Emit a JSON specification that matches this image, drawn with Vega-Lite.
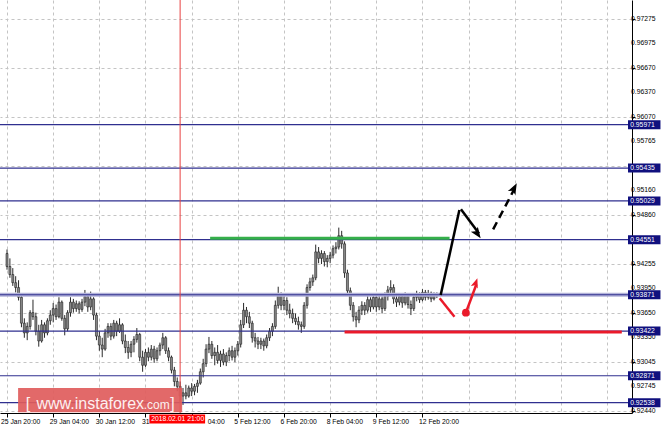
{
"$schema":"https://vega.github.io/schema/vega-lite/v6.json",
"width":632,"height":413,
"autosize":{"type":"none"},
"padding":{"left":0,"top":0,"right":31,"bottom":15},
"background":"white",
"view":{"stroke":null},
"config":{"font":"Liberation Sans","text":{"font":"Liberation Sans"}},
"datasets":{
"bars":[
{"i":0,"o":0.9438,"h":0.9443,"l":0.9418,"c":0.9422},
{"i":1,"o":0.9422,"h":0.9432,"l":0.9408,"c":0.9412},
{"i":2,"o":0.9412,"h":0.9420,"l":0.9398,"c":0.9402},
{"i":3,"o":0.9402,"h":0.9410,"l":0.9390,"c":0.9396},
{"i":4,"o":0.9396,"h":0.9405,"l":0.9380,"c":0.9384},
{"i":5,"o":0.9384,"h":0.9387,"l":0.9347,"c":0.9352},
{"i":6,"o":0.9352,"h":0.9358,"l":0.9334,"c":0.9340},
{"i":7,"o":0.9340,"h":0.9353,"l":0.9331,"c":0.9348},
{"i":8,"o":0.9348,"h":0.9368,"l":0.9344,"c":0.9365},
{"i":9,"o":0.9365,"h":0.9381,"l":0.9356,"c":0.9360},
{"i":10,"o":0.9360,"h":0.9365,"l":0.9337,"c":0.9342},
{"i":11,"o":0.9342,"h":0.9350,"l":0.9323,"c":0.9330},
{"i":12,"o":0.9330,"h":0.9356,"l":0.9328,"c":0.9350},
{"i":13,"o":0.9350,"h":0.9353,"l":0.9334,"c":0.9340},
{"i":14,"o":0.9340,"h":0.9358,"l":0.9337,"c":0.9355},
{"i":15,"o":0.9355,"h":0.9368,"l":0.9350,"c":0.9362},
{"i":16,"o":0.9362,"h":0.9377,"l":0.9353,"c":0.9370},
{"i":17,"o":0.9370,"h":0.9375,"l":0.9356,"c":0.9360},
{"i":18,"o":0.9360,"h":0.9384,"l":0.9358,"c":0.9378},
{"i":19,"o":0.9378,"h":0.9380,"l":0.9355,"c":0.9358},
{"i":20,"o":0.9358,"h":0.9362,"l":0.9337,"c":0.9345},
{"i":21,"o":0.9345,"h":0.9368,"l":0.9342,"c":0.9365},
{"i":22,"o":0.9365,"h":0.9384,"l":0.9360,"c":0.9378},
{"i":23,"o":0.9378,"h":0.9382,"l":0.9365,"c":0.9370},
{"i":24,"o":0.9370,"h":0.9380,"l":0.9366,"c":0.9376},
{"i":25,"o":0.9376,"h":0.9379,"l":0.9364,"c":0.9369},
{"i":26,"o":0.9369,"h":0.9382,"l":0.9366,"c":0.9378},
{"i":27,"o":0.9378,"h":0.9393,"l":0.9373,"c":0.9385},
{"i":28,"o":0.9385,"h":0.9388,"l":0.9366,"c":0.9372},
{"i":29,"o":0.9372,"h":0.9391,"l":0.9368,"c":0.9382},
{"i":30,"o":0.9382,"h":0.9384,"l":0.9356,"c":0.9362},
{"i":31,"o":0.9362,"h":0.9365,"l":0.9331,"c":0.9336},
{"i":32,"o":0.9336,"h":0.9342,"l":0.9318,"c":0.9325},
{"i":33,"o":0.9325,"h":0.9334,"l":0.9310,"c":0.9320},
{"i":34,"o":0.9320,"h":0.9345,"l":0.9318,"c":0.9340},
{"i":35,"o":0.9340,"h":0.9352,"l":0.9334,"c":0.9348},
{"i":36,"o":0.9348,"h":0.9352,"l":0.9331,"c":0.9336},
{"i":37,"o":0.9336,"h":0.9356,"l":0.9333,"c":0.9352},
{"i":38,"o":0.9352,"h":0.9355,"l":0.9336,"c":0.9342},
{"i":39,"o":0.9342,"h":0.9358,"l":0.9340,"c":0.9350},
{"i":40,"o":0.9350,"h":0.9352,"l":0.9326,"c":0.9330},
{"i":41,"o":0.9330,"h":0.9338,"l":0.9315,"c":0.9322},
{"i":42,"o":0.9322,"h":0.9330,"l":0.9308,"c":0.9316},
{"i":43,"o":0.9316,"h":0.9330,"l":0.9310,"c":0.9326},
{"i":44,"o":0.9326,"h":0.9336,"l":0.9316,"c":0.9332},
{"i":45,"o":0.9332,"h":0.9346,"l":0.9328,"c":0.9338},
{"i":46,"o":0.9338,"h":0.9340,"l":0.9305,"c":0.9310},
{"i":47,"o":0.9310,"h":0.9318,"l":0.9292,"c":0.9300},
{"i":48,"o":0.9300,"h":0.9320,"l":0.9298,"c":0.9316},
{"i":49,"o":0.9316,"h":0.9322,"l":0.9305,"c":0.9310},
{"i":50,"o":0.9310,"h":0.9325,"l":0.9306,"c":0.9320},
{"i":51,"o":0.9320,"h":0.9324,"l":0.9303,"c":0.9308},
{"i":52,"o":0.9308,"h":0.9322,"l":0.9305,"c":0.9318},
{"i":53,"o":0.9318,"h":0.9328,"l":0.9312,"c":0.9325},
{"i":54,"o":0.9325,"h":0.9340,"l":0.9320,"c":0.9334},
{"i":55,"o":0.9334,"h":0.9336,"l":0.9314,"c":0.9318},
{"i":56,"o":0.9318,"h":0.9322,"l":0.9305,"c":0.9310},
{"i":57,"o":0.9310,"h":0.9312,"l":0.9290,"c":0.9294},
{"i":58,"o":0.9294,"h":0.9298,"l":0.9274,"c":0.9280},
{"i":59,"o":0.9280,"h":0.9285,"l":0.9268,"c":0.9274},
{"i":60,"o":0.9274,"h":0.9280,"l":0.9255,"c":0.9262},
{"i":61,"o":0.9262,"h":0.9272,"l":0.9251,"c":0.9266},
{"i":62,"o":0.9266,"h":0.9276,"l":0.9258,"c":0.9262},
{"i":63,"o":0.9262,"h":0.9275,"l":0.9260,"c":0.9272},
{"i":64,"o":0.9272,"h":0.9278,"l":0.9262,"c":0.9268},
{"i":65,"o":0.9268,"h":0.9277,"l":0.9263,"c":0.9274},
{"i":66,"o":0.9274,"h":0.9282,"l":0.9266,"c":0.9278},
{"i":67,"o":0.9278,"h":0.9296,"l":0.9276,"c":0.9292},
{"i":68,"o":0.9292,"h":0.9308,"l":0.9285,"c":0.9302},
{"i":69,"o":0.9302,"h":0.9326,"l":0.9298,"c":0.9320},
{"i":70,"o":0.9320,"h":0.9335,"l":0.9315,"c":0.9326},
{"i":71,"o":0.9326,"h":0.9330,"l":0.9308,"c":0.9312},
{"i":72,"o":0.9312,"h":0.9322,"l":0.9300,"c":0.9316},
{"i":73,"o":0.9316,"h":0.9325,"l":0.9302,"c":0.9306},
{"i":74,"o":0.9306,"h":0.9318,"l":0.9298,"c":0.9314},
{"i":75,"o":0.9314,"h":0.9320,"l":0.9300,"c":0.9304},
{"i":76,"o":0.9304,"h":0.9316,"l":0.9299,"c":0.9312},
{"i":77,"o":0.9312,"h":0.9322,"l":0.9305,"c":0.9318},
{"i":78,"o":0.9318,"h":0.9324,"l":0.9306,"c":0.9310},
{"i":79,"o":0.9310,"h":0.9322,"l":0.9304,"c":0.9318},
{"i":80,"o":0.9318,"h":0.9330,"l":0.9312,"c":0.9326},
{"i":81,"o":0.9326,"h":0.9356,"l":0.9322,"c":0.9350},
{"i":82,"o":0.9350,"h":0.9377,"l":0.9346,"c":0.9368},
{"i":83,"o":0.9368,"h":0.9372,"l":0.9352,"c":0.9360},
{"i":84,"o":0.9360,"h":0.9366,"l":0.9346,"c":0.9352},
{"i":85,"o":0.9352,"h":0.9355,"l":0.9328,"c":0.9334},
{"i":86,"o":0.9334,"h":0.9340,"l":0.9322,"c":0.9330},
{"i":87,"o":0.9330,"h":0.9335,"l":0.9320,"c":0.9326},
{"i":88,"o":0.9326,"h":0.9334,"l":0.9320,"c":0.9330},
{"i":89,"o":0.9330,"h":0.9333,"l":0.9318,"c":0.9324},
{"i":90,"o":0.9324,"h":0.9338,"l":0.9321,"c":0.9334},
{"i":91,"o":0.9334,"h":0.9346,"l":0.9330,"c":0.9342},
{"i":92,"o":0.9342,"h":0.9352,"l":0.9336,"c":0.9348},
{"i":93,"o":0.9348,"h":0.9380,"l":0.9345,"c":0.9374},
{"i":94,"o":0.9374,"h":0.9397,"l":0.9370,"c":0.9386},
{"i":95,"o":0.9386,"h":0.9390,"l":0.9368,"c":0.9374},
{"i":96,"o":0.9374,"h":0.9386,"l":0.9368,"c":0.9380},
{"i":97,"o":0.9380,"h":0.9384,"l":0.9362,"c":0.9368},
{"i":98,"o":0.9368,"h":0.9376,"l":0.9358,"c":0.9364},
{"i":99,"o":0.9364,"h":0.9370,"l":0.9352,"c":0.9358},
{"i":100,"o":0.9358,"h":0.9364,"l":0.9350,"c":0.9354},
{"i":101,"o":0.9354,"h":0.9360,"l":0.9344,"c":0.9350},
{"i":102,"o":0.9350,"h":0.9354,"l":0.9340,"c":0.9348},
{"i":103,"o":0.9348,"h":0.9378,"l":0.9345,"c":0.9374},
{"i":104,"o":0.9374,"h":0.9400,"l":0.9370,"c":0.9396},
{"i":105,"o":0.9396,"h":0.9408,"l":0.9392,"c":0.9403},
{"i":106,"o":0.9403,"h":0.9412,"l":0.9398,"c":0.9408},
{"i":107,"o":0.9408,"h":0.9449,"l":0.9405,"c":0.9440},
{"i":108,"o":0.9440,"h":0.9446,"l":0.9426,"c":0.9432},
{"i":109,"o":0.9432,"h":0.9442,"l":0.9425,"c":0.9438},
{"i":110,"o":0.9438,"h":0.9441,"l":0.9422,"c":0.9428},
{"i":111,"o":0.9428,"h":0.9436,"l":0.9421,"c":0.9432},
{"i":112,"o":0.9432,"h":0.9440,"l":0.9426,"c":0.9436},
{"i":113,"o":0.9436,"h":0.9448,"l":0.9432,"c":0.9444},
{"i":114,"o":0.9444,"h":0.9452,"l":0.9438,"c":0.9446},
{"i":115,"o":0.9446,"h":0.9470,"l":0.9443,"c":0.9460},
{"i":116,"o":0.9460,"h":0.9466,"l":0.9444,"c":0.9450},
{"i":117,"o":0.9450,"h":0.9453,"l":0.9408,"c":0.9414},
{"i":118,"o":0.9414,"h":0.9418,"l":0.9386,"c":0.9392},
{"i":119,"o":0.9392,"h":0.9396,"l":0.9368,"c":0.9374},
{"i":120,"o":0.9374,"h":0.9378,"l":0.9354,"c":0.9360},
{"i":121,"o":0.9360,"h":0.9366,"l":0.9347,"c":0.9356},
{"i":122,"o":0.9356,"h":0.9373,"l":0.9352,"c":0.9368},
{"i":123,"o":0.9368,"h":0.9379,"l":0.9362,"c":0.9374},
{"i":124,"o":0.9374,"h":0.9378,"l":0.9362,"c":0.9368},
{"i":125,"o":0.9368,"h":0.9386,"l":0.9365,"c":0.9381},
{"i":126,"o":0.9381,"h":0.9384,"l":0.9366,"c":0.9372},
{"i":127,"o":0.9372,"h":0.9389,"l":0.9369,"c":0.9384},
{"i":128,"o":0.9384,"h":0.9387,"l":0.9366,"c":0.9372},
{"i":129,"o":0.9372,"h":0.9388,"l":0.9368,"c":0.9382},
{"i":130,"o":0.9382,"h":0.9385,"l":0.9364,"c":0.9370},
{"i":131,"o":0.9370,"h":0.9390,"l":0.9367,"c":0.9385},
{"i":132,"o":0.9385,"h":0.9398,"l":0.9380,"c":0.9393},
{"i":133,"o":0.9393,"h":0.9405,"l":0.9388,"c":0.9396},
{"i":134,"o":0.9396,"h":0.9400,"l":0.9376,"c":0.9382},
{"i":135,"o":0.9382,"h":0.9387,"l":0.9372,"c":0.9378},
{"i":136,"o":0.9378,"h":0.9389,"l":0.9374,"c":0.9385},
{"i":137,"o":0.9385,"h":0.9387,"l":0.9371,"c":0.9377},
{"i":138,"o":0.9377,"h":0.9390,"l":0.9374,"c":0.9386},
{"i":139,"o":0.9386,"h":0.9388,"l":0.9370,"c":0.9375},
{"i":140,"o":0.9375,"h":0.9380,"l":0.9362,"c":0.9370},
{"i":141,"o":0.9370,"h":0.9388,"l":0.9367,"c":0.9384},
{"i":142,"o":0.9384,"h":0.9392,"l":0.9379,"c":0.9388},
{"i":143,"o":0.9388,"h":0.9390,"l":0.9377,"c":0.9381},
{"i":144,"o":0.9381,"h":0.9394,"l":0.9379,"c":0.9390},
{"i":145,"o":0.9390,"h":0.9393,"l":0.9380,"c":0.9384},
{"i":146,"o":0.9384,"h":0.9393,"l":0.9381,"c":0.9389},
{"i":147,"o":0.9389,"h":0.9391,"l":0.9378,"c":0.9382},
{"i":148,"o":0.9382,"h":0.9390,"l":0.9380,"c":0.9386},
{"i":149,"o":0.9386,"h":0.9390,"l":0.9383,"c":0.9387}
],
"levels":[{"p":0.95971},{"p":0.95435},{"p":0.95029},{"p":0.94551},{"p":0.93871},{"p":0.93422},{"p":0.92871},{"p":0.92538}],
"yticks":[{"v":0.9244},{"v":0.92745},{"v":0.93045},{"v":0.9335},{"v":0.9365},{"v":0.9395},{"v":0.94255},{"v":0.9486},{"v":0.9516},{"v":0.95765},{"v":0.9607},{"v":0.9637},{"v":0.9667},{"v":0.96975},{"v":0.97275}]
},
"layer":[
{"data":{"name":"bars"},"mark":{"type":"rule","color":"#2a2a2a","strokeWidth":1},
 "encoding":{
  "x":{"field":"i","type":"quantitative","scale":{"domain":[-0.7,214.9],"nice":false,"zero":false},
   "axis":{"title":null,"values":[0,8,16,24,32,40,48,56,64,72,80,88,96,104,112,120,128,136,144,152,160,168,176,184,192,200,208],
    "grid":true,"gridColor":"#c4c4c4","gridDash":[3,3],"gridWidth":1,"domainColor":"#000","domainWidth":1,
    "tickSize":4,"tickColor":{"condition":{"test":"datum.value % 16 === 0 && datum.value <= 144","value":"#000"},"value":"rgba(0,0,0,0)"},
    "labelExpr":"datum.value % 16 === 0 && datum.value <= 144 ? ['25 Jan 20:00','29 Jan 04:00','30 Jan 12:00','31','04:00','5 Feb 12:00','6 Feb 20:00','8 Feb 04:00','9 Feb 12:00','12 Feb 20:00'][datum.value / 16] : ''",
    "labelOffset":{"condition":[{"test":"datum.value === 0","value":-6.5},{"test":"datum.value === 64","value":15.5}],"value":-4},
    "labelAlign":"left","labelPadding":1,"labelFontSize":6.8,"labelColor":"#000","labelFont":"Liberation Sans","labelOverlap":false,"labelBound":false,"labelFlush":false}},
  "y":{"field":"l","type":"quantitative","scale":{"domain":[0.92411,0.9751],"nice":false,"zero":false},
   "axis":{"orient":"right","title":null,"values":[0.9244,0.92745,0.93045,0.9335,0.9365,0.9395,0.94255,0.94555,0.9486,0.9516,0.9546,0.95765,0.9607,0.9637,0.9667,0.96975,0.97275],
    "labels":false,"grid":true,"gridColor":"#c4c4c4","gridDash":[3,3],"gridWidth":1,"domainColor":"#000","domainWidth":1,
    "tickSize":3,"tickColor":"#000"}},
  "y2":{"field":"h"}
 }},
{"data":{"name":"bars"},"mark":{"type":"bar","width":2,"fill":"#8a8a8a","stroke":"#1e1e1e","strokeWidth":0.6},
 "encoding":{"x":{"field":"i","type":"quantitative"},"y":{"field":"o","type":"quantitative"},"y2":{"field":"c"}}},
{"data":{"values":[{}]},"mark":{"type":"rule","color":"#b2b2d8","strokeWidth":4},
 "encoding":{"y":{"datum":0.93871,"type":"quantitative"}}},
{"data":{"name":"levels"},"mark":{"type":"rule","color":"#2f2f8f","strokeWidth":1.2},
 "encoding":{"y":{"field":"p","type":"quantitative"}}},
{"data":{"values":[{}]},"mark":{"type":"rule","color":"#e84040","strokeWidth":1},
 "encoding":{"x":{"datum":60,"type":"quantitative"}}},
{"data":{"values":[{}]},"mark":{"type":"rule","color":"#35b04a","strokeWidth":3},
 "encoding":{"x":{"datum":70.4,"type":"quantitative"},"x2":{"datum":153.4},"y":{"datum":0.94568,"type":"quantitative"}}},
{"data":{"values":[{}]},"mark":{"type":"rule","color":"#ea1a2a","strokeWidth":3},
 "encoding":{"x":{"datum":117,"type":"quantitative"},"x2":{"datum":213.1},"y":{"datum":0.93411,"type":"quantitative"}}},
{"data":{"values":[{}]},"mark":{"type":"rule","color":"#000","strokeWidth":2.5},
 "encoding":{"x":{"datum":150.32,"type":"quantitative"},"x2":{"datum":156.8},"y":{"datum":0.93868,"type":"quantitative"},"y2":{"datum":0.94917}}},
{"data":{"values":[{}]},"mark":{"type":"rule","color":"#000","strokeWidth":2.5},
 "encoding":{"x":{"datum":157.35,"type":"quantitative"},"x2":{"datum":163.6},"y":{"datum":0.94926,"type":"quantitative"},"y2":{"datum":0.94628}}},
{"data":{"values":[{}]},"mark":{"type":"rule","color":"#000","strokeWidth":2.5,"strokeDash":[8,5]},
 "encoding":{"x":{"datum":168.5,"type":"quantitative"},"x2":{"datum":176.2},"y":{"datum":0.94679,"type":"quantitative"},"y2":{"datum":0.952}}},
{"data":{"values":[{}]},"mark":{"type":"rule","color":"#ea1a2a","strokeWidth":2.5},
 "encoding":{"x":{"datum":149.98,"type":"quantitative"},"x2":{"datum":155.1},"y":{"datum":0.93827,"type":"quantitative"},"y2":{"datum":0.936}}},
{"data":{"values":[{}]},"mark":{"type":"rule","color":"#ea1a2a","strokeWidth":2.5},
 "encoding":{"x":{"datum":159.05,"type":"quantitative"},"x2":{"datum":162.7},"y":{"datum":0.93649,"type":"quantitative"},"y2":{"datum":0.94}}},
{"data":{"values":[{}]},"mark":{"type":"point","filled":true,"opacity":1,"color":"#000","size":100,"angle":145,"shape":"M0,0L0.85,2.2L0,1.7L-0.85,2.2Z"},
 "encoding":{"x":{"datum":164.17,"type":"quantitative"},"y":{"datum":0.94568,"type":"quantitative"}}},
{"data":{"values":[{}]},"mark":{"type":"point","filled":true,"opacity":1,"color":"#000","size":100,"angle":28,"shape":"M0,0L0.85,2.2L0,1.7L-0.85,2.2Z"},
 "encoding":{"x":{"datum":176.69,"type":"quantitative"},"y":{"datum":0.95247,"type":"quantitative"}}},
{"data":{"values":[{}]},"mark":{"type":"point","filled":true,"opacity":1,"color":"#ea1a2a","size":75,"angle":19,"shape":"M0,0L0.85,2.2L0,1.7L-0.85,2.2Z"},
 "encoding":{"x":{"datum":163.04,"type":"quantitative"},"y":{"datum":0.94074,"type":"quantitative"}}},
{"data":{"values":[{}]},"mark":{"type":"point","filled":true,"opacity":1,"color":"#ea1a2a","size":60,"shape":"circle"},
 "encoding":{"x":{"datum":159.05,"type":"quantitative"},"y":{"datum":0.93649,"type":"quantitative"}}},
{"data":{"values":[{}]},"mark":{"type":"rect","color":"#e05c5c","opacity":0.92},
 "encoding":{"x":{"datum":3.84,"type":"quantitative"},"x2":{"datum":60.7},"y":{"datum":0.9272,"type":"quantitative"},"y2":{"datum":0.92421}}},
{"data":{"values":[{}]},"mark":{"type":"text","text":"[","color":"#fdf0f0","fontSize":16,"align":"left","baseline":"alphabetic"},
 "encoding":{"x":{"datum":6.46,"type":"quantitative"},"y":{"datum":0.92461,"type":"quantitative"}}},
{"data":{"values":[{}]},"mark":{"type":"text","text":"www.instaforex","color":"#fdf0f0","fontSize":16,"align":"left","baseline":"alphabetic"},
 "encoding":{"x":{"datum":10.22,"type":"quantitative"},"y":{"datum":0.92461,"type":"quantitative"}}},
{"data":{"values":[{}]},"mark":{"type":"text","text":".com","color":"#fdf0f0","fontSize":12,"align":"left","baseline":"alphabetic"},
 "encoding":{"x":{"datum":47.4,"type":"quantitative"},"y":{"datum":0.92461,"type":"quantitative"}}},
{"data":{"values":[{}]},"mark":{"type":"text","text":"]","color":"#fdf0f0","fontSize":16,"align":"left","baseline":"alphabetic"},
 "encoding":{"x":{"datum":56.6,"type":"quantitative"},"y":{"datum":0.92461,"type":"quantitative"}}},
{"data":{"name":"yticks"},"mark":{"type":"text","color":"#000","fontSize":6.8,"align":"left","baseline":"middle"},
 "encoding":{"x":{"datum":216.3,"type":"quantitative"},"y":{"field":"v","type":"quantitative"},"text":{"field":"v","type":"quantitative","format":".5f"}}},
{"data":{"name":"levels"},"mark":{"type":"rule","color":"#10107e","strokeWidth":9,"strokeCap":"butt"},
 "encoding":{"x":{"datum":215.25,"type":"quantitative"},"x2":{"datum":226.5},"y":{"field":"p","type":"quantitative"}}},
{"data":{"name":"levels"},"mark":{"type":"text","color":"#ffffff","fontSize":6.8,"align":"left","baseline":"middle"},
 "encoding":{"x":{"datum":216.0,"type":"quantitative"},"y":{"field":"p","type":"quantitative"},"text":{"field":"p","type":"quantitative","format":".5f"}}},
{"data":{"values":[{}]},"mark":{"type":"rule","color":"#ff0000","strokeWidth":9,"strokeCap":"butt"},
 "encoding":{"x":{"datum":49.35,"type":"quantitative"},"x2":{"datum":68.66},"y":{"datum":0.92337,"type":"quantitative"}}},
{"data":{"values":[{}]},"mark":{"type":"text","text":"2018.02.01 21:00","color":"#ffffff","fontSize":6.8,"align":"left","baseline":"middle"},
 "encoding":{"x":{"datum":50.0,"type":"quantitative"},"y":{"datum":0.92337,"type":"quantitative"}}}
]
}
